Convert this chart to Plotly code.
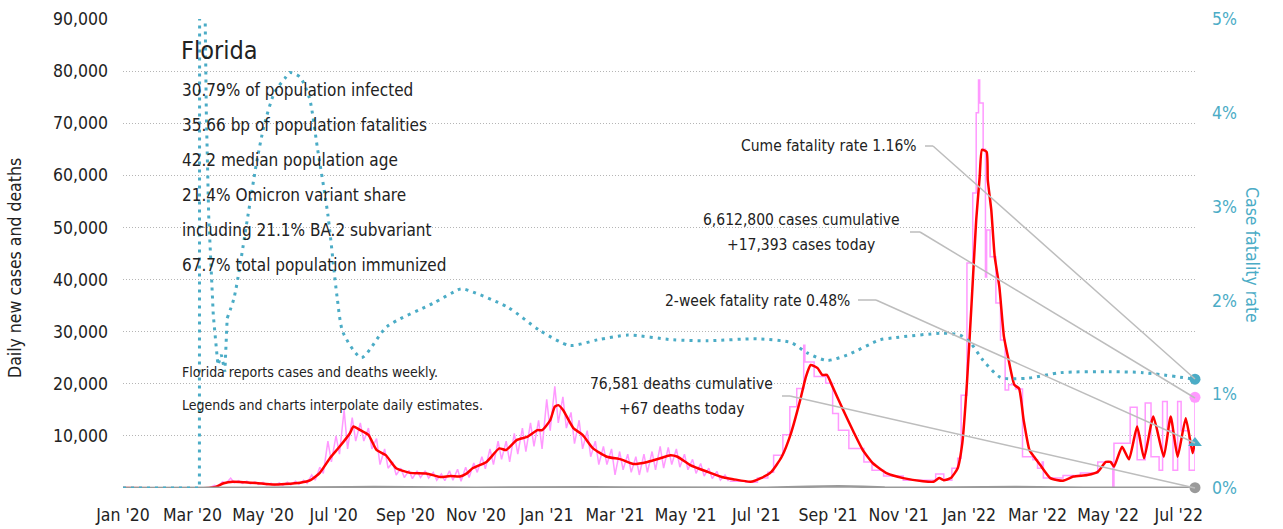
import pandas as pd
import plotly.graph_objects as go

FONT = "DejaVu Sans Condensed, Liberation Sans Narrow, Roboto, sans-serif"
TEAL = "#4bacc6"
RED = "#ff0000"
PINK = "#ff99ff"
GRAY = "#9a9a9a"
LEADER = "#bdbdbd"

# ---------------- data ----------------
# 7-day average of daily new cases (red)
avg_dates = ["2020-01-01", "2020-03-15", "2020-03-21", "2020-03-28", "2020-04-05", "2020-04-15",
             "2020-04-25", "2020-05-10", "2020-05-20", "2020-06-02", "2020-06-11", "2020-06-19",
             "2020-06-28", "2020-07-06", "2020-07-15", "2020-07-18", "2020-07-24", "2020-07-31",
             "2020-08-07", "2020-08-15", "2020-08-24", "2020-09-05", "2020-09-19", "2020-10-01",
             "2020-10-10", "2020-10-18", "2020-10-24", "2020-10-29", "2020-11-10", "2020-11-21",
             "2020-11-27", "2020-12-06", "2020-12-15", "2020-12-24", "2020-12-28", "2021-01-04",
             "2021-01-08", "2021-01-11", "2021-01-15", "2021-01-24", "2021-02-01", "2021-02-10",
             "2021-02-22", "2021-03-06", "2021-03-17", "2021-03-29", "2021-04-09", "2021-04-18",
             "2021-04-24", "2021-05-05", "2021-05-20", "2021-06-03", "2021-06-11", "2021-06-26",
             "2021-07-05", "2021-07-14", "2021-07-23", "2021-07-31", "2021-08-08", "2021-08-13",
             "2021-08-17", "2021-08-23", "2021-08-27", "2021-08-31", "2021-09-05", "2021-09-14",
             "2021-09-23", "2021-10-01", "2021-10-10", "2021-10-22", "2021-11-05", "2021-11-22",
             "2021-12-01", "2021-12-06", "2021-12-10", "2021-12-16", "2021-12-22", "2021-12-26",
             "2021-12-30", "2022-01-03", "2022-01-07", "2022-01-10", "2022-01-12", "2022-01-16",
             "2022-01-17", "2022-01-20", "2022-01-23", "2022-01-27", "2022-01-31", "2022-02-04",
             "2022-02-09", "2022-02-13", "2022-02-17", "2022-02-22", "2022-02-26", "2022-03-03",
             "2022-03-12", "2022-03-23", "2022-04-01", "2022-04-13", "2022-04-22", "2022-04-29",
             "2022-05-03", "2022-05-06", "2022-05-13", "2022-05-19", "2022-05-26", "2022-06-01",
             "2022-06-09", "2022-06-18", "2022-06-24", "2022-06-30", "2022-07-07", "2022-07-13",
             "2022-07-15"]
avg_cases = [0, 0, 200, 900, 1200, 1100,
             950, 650, 750, 1000, 1500, 2900,
             5800, 7900, 10500, 11800, 11100, 10200,
             7300, 6300, 3800, 2900, 2800, 2100,
             2300, 2200, 2800, 3800, 5000, 7600,
             7300, 9200, 9800, 11100, 11100, 13000,
             15600, 15900, 15000, 11500, 10200, 7600,
             6000, 5500, 4600, 5000, 5700, 6300,
             6000, 4400, 3100, 2000, 1700, 1200,
             1900, 3100, 6000, 10500, 16900, 21400,
             23600, 23000, 21700, 21700, 19400, 15000,
             10800, 7300, 4700, 2800, 1900, 1300,
             1200, 1900, 1500, 1900, 3800, 8600,
             20100, 35400, 51400, 59700, 64900, 64500,
             59100, 53400, 44400, 38600, 29000, 24600,
             19800, 19100, 13000, 7300, 6000, 4500,
             1900, 1400, 2200, 2500, 3100, 5000,
             5000, 4100, 7900, 5500, 11800, 5700,
             13700, 6000, 13700, 6000, 13400, 6700,
             8900]

# Daily new cases (pink), Mar 2020 - Jun 2021: weekly high and following low
osc_week_start = "2020-03-06"
osc_high = [20, 100, 500, 1200, 1900, 1400, 1300, 1200, 1100, 900, 1000, 1100, 1300, 1500,
            2500, 4000, 9000, 10000, 15000, 13500, 12500, 11500, 9500, 7500, 5000, 3800,
            3400, 3300, 3300, 3000, 2700, 3300, 3600, 4000, 4800, 6000, 7500, 9000, 9000,
            10500, 11500, 12500, 13000, 17000, 19500, 17500, 14500, 13000, 11000, 9000, 8000,
            7500, 7000, 6500, 6000, 6500, 7000, 8000, 7800, 7500, 6500, 5500, 4700, 3800,
            3200, 2500]
osc_low = [10, 60, 300, 900, 1000, 900, 800, 700, 600, 500, 500, 600, 700, 900,
           1500, 2800, 5000, 6500, 7500, 9000, 9000, 7500, 4500, 3800, 2500, 2000,
           1800, 2000, 1900, 1500, 1400, 1500, 1300, 2000, 3000, 3700, 4500, 5500, 5000,
           6500, 7000, 8000, 7500, 11000, 12500, 11500, 8500, 7500, 6000, 4500, 4500,
           2500, 3500, 3000, 2500, 3000, 3500, 3800, 4500, 4000, 3500, 2800, 2300, 1800,
           1500, 1300]

# Daily new cases (pink), Jun 2021 - Jul 2022: weekly / biweekly reports as steps
step_dates = ["2021-06-08", "2021-06-22", "2021-07-02", "2021-07-11", "2021-07-16", "2021-07-24",
              "2021-07-30", "2021-08-05", "2021-08-11", "2021-08-12", "2021-08-20", "2021-08-30",
              "2021-09-05", "2021-09-10", "2021-09-19", "2021-10-02", "2021-10-09", "2021-10-19",
              "2021-11-05", "2021-12-03", "2021-12-10", "2021-12-17", "2021-12-22", "2021-12-25",
              "2021-12-30", "2022-01-04", "2022-01-07", "2022-01-09", "2022-01-10", "2022-01-13",
              "2022-01-15", "2022-01-16", "2022-01-19", "2022-01-24", "2022-01-28", "2022-02-01",
              "2022-02-04", "2022-02-10", "2022-02-16", "2022-02-25", "2022-03-01", "2022-03-05",
              "2022-03-06", "2022-03-23", "2022-04-07", "2022-04-22", "2022-05-05", "2022-05-06",
              "2022-05-20", "2022-05-26", "2022-06-02", "2022-06-07", "2022-06-14", "2022-06-17",
              "2022-06-21", "2022-06-26", "2022-06-30", "2022-07-03", "2022-07-10", "2022-07-15"]
step_cases = [1300, 1100, 1900, 3000, 6300, 10200,
              15600, 19100, 27400, 24200, 21400, 20100,
              14300, 11100, 7600, 5000, 3400, 2300,
              1500, 2700, 1500, 3800, 5700, 17800,
              43200, 56600, 72000, 78300, 73900, 65000,
              40500, 49500, 44400, 35500, 28400, 18800,
              19800, 19000, 6000, 5400, 3800, 5000,
              1900, 2400, 2900, 5000, 0, 8600,
              15500, 5400, 16300, 6000, 3400, 16600,
              11000, 3400, 16600, 11000, 3400, 17393]

# Daily deaths (gray)
death_dates = ["2020-01-01", "2020-03-10", "2020-04-01", "2020-04-20", "2020-05-15", "2020-06-15",
               "2020-07-15", "2020-08-05", "2020-09-01", "2020-10-01", "2020-11-01", "2020-12-01",
               "2021-01-10", "2021-02-10", "2021-03-10", "2021-04-10", "2021-05-10", "2021-06-10",
               "2021-07-10", "2021-08-15", "2021-09-10", "2021-10-01", "2021-10-20", "2021-11-15",
               "2021-12-15", "2022-01-15", "2022-02-10", "2022-03-10", "2022-04-10", "2022-05-10",
               "2022-06-10", "2022-07-15"]
deaths = [0, 0, 30, 55, 40, 35,
          120, 180, 120, 80, 60, 90,
          160, 140, 80, 60, 55, 40,
          50, 250, 350, 250, 100, 40,
          30, 120, 200, 80, 30, 30,
          40, 67]

# Case fatality rate, % (teal, right axis)
cfr_dates = ["2020-01-01", "2020-03-07", "2020-03-08", "2020-03-12", "2020-03-13", "2020-03-15",
             "2020-03-19", "2020-03-23", "2020-03-26", "2020-03-29", "2020-03-31", "2020-04-06",
             "2020-04-18", "2020-04-25", "2020-05-02", "2020-05-11", "2020-05-20", "2020-05-24",
             "2020-06-02", "2020-06-10", "2020-06-17", "2020-06-26", "2020-07-04", "2020-07-09",
             "2020-07-25", "2020-08-16", "2020-09-25", "2020-10-18", "2020-10-22", "2020-11-28",
             "2020-12-26", "2021-01-21", "2021-02-14", "2021-03-12", "2021-04-20", "2021-05-20",
             "2021-07-02", "2021-07-31", "2021-08-14", "2021-08-31", "2021-09-18", "2021-10-16",
             "2021-10-27", "2021-12-09", "2021-12-24", "2022-01-02", "2022-01-13", "2022-01-28",
             "2022-02-20", "2022-03-21", "2022-05-03", "2022-05-31", "2022-07-15"]
cfr_pct = [0, 0, 30, 5.0, 3.98, 2.91,
           1.84, 1.31, 1.42, 1.24, 1.81, 2.03,
           2.91, 3.44, 3.87, 4.22, 4.37, 4.43,
           4.38, 4.16, 3.62, 2.91, 2.03, 1.66,
           1.39, 1.72, 1.97, 2.12, 2.12, 1.93,
           1.68, 1.52, 1.58, 1.63, 1.58, 1.57,
           1.59, 1.55, 1.44, 1.36, 1.42, 1.58,
           1.60, 1.65, 1.63, 1.55, 1.36, 1.18,
           1.17, 1.23, 1.24, 1.23, 1.16]
cfr_split = 10  # index where the jagged early segment ends and the smooth part starts

last_date = "2022-07-15"
today_cases = 17393
today_deaths = 67
cume_cfr = 1.16
twoweek_cfr = 0.48

x_ticks = pd.date_range("2020-01-01", "2022-07-01", freq="2MS")
y_ticks = [10000, 20000, 30000, 40000, 50000, 60000, 70000, 80000, 90000]
y2_ticks = [0, 1, 2, 3, 4, 5]

info_lines = ["30.79% of population infected",
              "35.66 bp of population fatalities",
              "42.2 median population age",
              "21.4% Omicron variant share",
              "including 21.1% BA.2 subvariant",
              "67.7% total population immunized"]
notes = ["Florida reports cases and deaths weekly.",
         "Legends and charts interpolate daily estimates."]

# ---------------- build ----------------
weeks = pd.date_range(osc_week_start, periods=len(osc_high), freq="7D")
osc_x, osc_y = [], []
for w, hi, lo in zip(weeks, osc_high, osc_low):
    osc_x += [w, w + pd.Timedelta(days=3)]
    osc_y += [hi, lo]

dot = dict(color=TEAL, width=3, dash="3px,5px")

fig = go.Figure()
fig.add_trace(go.Scatter(x=osc_x, y=osc_y, mode="lines",
                         line=dict(color=PINK, width=1.5)))
fig.add_trace(go.Scatter(x=step_dates, y=step_cases, mode="lines",
                         line=dict(color=PINK, width=1.5, shape="hv")))
fig.add_trace(go.Scatter(x=avg_dates, y=avg_cases, mode="lines",
                         line=dict(color=RED, width=2.5, shape="spline", smoothing=0.5)))
fig.add_trace(go.Scatter(x=death_dates, y=deaths, mode="lines",
                         line=dict(color=GRAY, width=2.5)))
fig.add_trace(go.Scatter(x=cfr_dates[:cfr_split + 1], y=cfr_pct[:cfr_split + 1], mode="lines",
                         yaxis="y2", line=dot))
fig.add_trace(go.Scatter(x=cfr_dates[cfr_split:], y=cfr_pct[cfr_split:], mode="lines",
                         yaxis="y2", line=dict(dot, shape="spline", smoothing=0.7)))
# end markers
fig.add_trace(go.Scatter(x=[last_date], y=[today_cases], mode="markers", cliponaxis=False,
                         marker=dict(color=PINK, size=11)))
fig.add_trace(go.Scatter(x=[last_date], y=[today_deaths], mode="markers", cliponaxis=False,
                         marker=dict(color=GRAY, size=11)))
fig.add_trace(go.Scatter(x=[last_date], y=[cume_cfr], mode="markers", yaxis="y2",
                         cliponaxis=False, marker=dict(color=TEAL, size=11)))
fig.add_trace(go.Scatter(x=[last_date], y=[twoweek_cfr], mode="markers", yaxis="y2",
                         cliponaxis=False, marker=dict(color=TEAL, size=12, symbol="triangle-up")))

L, R, T, B = 123, 1195, 19, 488


def px(x):
    return (x - L) / (R - L)


def py(y):
    return (B - y) / (B - T)


ann = []


def text(s, x, y, size=17, xanchor="left", color="#222", angle=0):
    ann.append(dict(text=s, x=px(x), y=py(y), xref="paper", yref="paper", showarrow=False,
                    xanchor=xanchor, yanchor="middle", textangle=angle,
                    font=dict(family=FONT, size=size, color=color)))


text("Florida", 179, 50, size=25)
for i, s in enumerate(info_lines):
    text(s, 180, 90 + 35 * i, size=17)
text(notes[0], 180, 372, size=14)
text(notes[1], 180, 405, size=14)

text("Cume fatality rate 1.16%", 919, 146, size=15.5, xanchor="right")
text("6,612,800 cases cumulative", 801, 220, size=15.5, xanchor="center")
text("+17,393 cases today", 801, 245, size=15.5, xanchor="center")
text("2-week fatality rate 0.48%", 852, 301, size=15.5, xanchor="right")
text("76,581 deaths cumulative", 681, 384, size=15.5, xanchor="center")
text("+67 deaths today", 681, 409, size=15.5, xanchor="center")

text("Daily new cases and deaths", 15, 268, size=17.5, xanchor="center", angle=-90)
text("Case fatality rate", 1252, 255, size=17.5, xanchor="center", color=TEAL, angle=90)

shapes = []


def leader(pts):
    for (x0, y0), (x1, y1) in zip(pts[:-1], pts[1:]):
        shapes.append(dict(type="line", xref="paper", yref="paper",
                           x0=px(x0), y0=py(y0), x1=px(x1), y1=py(y1),
                           line=dict(color=LEADER, width=1.5), layer="above"))


leader([(925, 146), (933, 146), (1195, 379)])
leader([(910, 232), (920, 232), (1195, 398)])
leader([(858, 300), (876, 300), (1195, 443)])
leader([(782, 396), (790, 396), (1195, 488)])

fig.update_layout(
    width=1283, height=529,
    margin=dict(l=L, r=1283 - R, t=T, b=529 - B, autoexpand=False),
    paper_bgcolor="white", plot_bgcolor="white", showlegend=False, hovermode=False,
    font=dict(family=FONT, size=17.5, color="#222"),
    annotations=ann, shapes=shapes,
    xaxis=dict(type="date", range=["2020-01-01", last_date], tickvals=x_ticks,
               tickformat="%b '%y", tickangle=0, showgrid=False, zeroline=False,
               showline=False, ticks="", automargin=False,
               tickfont=dict(size=17.5, color="#222"), ticklabelstandoff=14),
    yaxis=dict(range=[0, 90000], tickvals=y_ticks, tickformat=",", showgrid=True,
               gridcolor="#b5b5b5", griddash="1px,2px", gridwidth=1, zeroline=False,
               showline=False, ticks="", automargin=False,
               tickfont=dict(size=17.5, color="#222"), ticklabelstandoff=14),
    yaxis2=dict(range=[0, 5], overlaying="y", side="right", tickmode="array",
                tickvals=y2_ticks, ticktext=[f"{v}%" for v in y2_ticks],
                showgrid=False, zeroline=False, showline=False, ticks="", automargin=False,
                tickfont=dict(size=17.5, color=TEAL), ticklabelstandoff=16),
)

fig.write_html("out.html", config={"displayModeBar": False, "staticPlot": True},
               post_script="document.body.style.margin='0px';"
                           "document.body.style.overflow='hidden';")
